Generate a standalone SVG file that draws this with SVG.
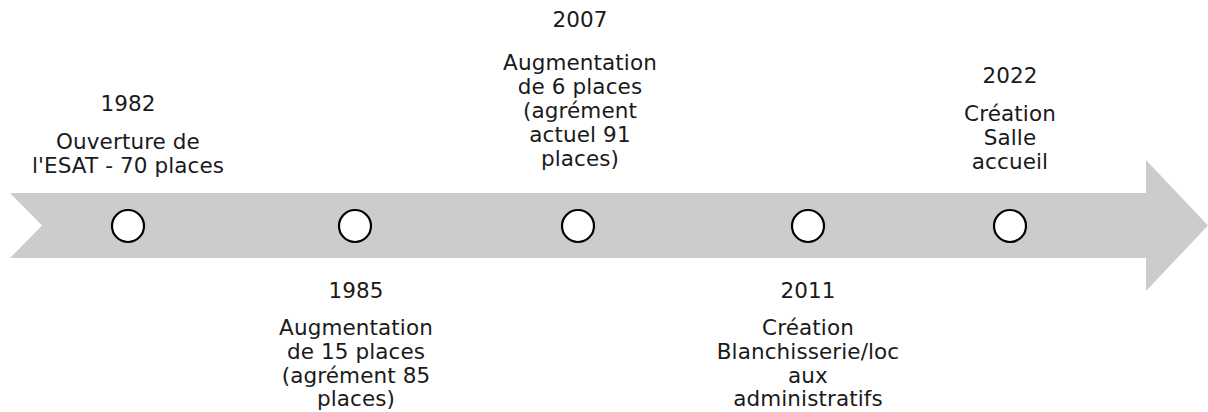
<svg xmlns="http://www.w3.org/2000/svg" width="1208" height="412" viewBox="0 0 1208 412">
<style>
.t{font-family:"DejaVu Sans","Liberation Sans",sans-serif;font-size:21.5px;fill:#1a1a1a;text-anchor:middle;letter-spacing:0.1px}
.c{fill:#ffffff;stroke:#000000;stroke-width:2.2}
</style>
<rect width="1208" height="412" fill="#ffffff"/>
<g id="connectors">
<polygon id="timeline-arrow" points="10,193 1146,193 1146,160 1208,225.5 1146,291 1146,258 10,258 42,225.5" fill="#cccccc"/>
</g>
<g id="node-1982">
<circle class="c" cx="128" cy="226" r="16"/>
<text class="t" x="128" y="111">1982</text>
<text class="t" x="128" y="149">Ouverture de</text>
<text class="t" x="128" y="173">l'ESAT - 70 places</text>
</g>
<g id="node-1985">
<circle class="c" cx="355" cy="226" r="16"/>
<text class="t" x="356" y="298">1985</text>
<text class="t" x="356" y="335">Augmentation</text>
<text class="t" x="356" y="359">de 15 places</text>
<text class="t" x="356" y="383">(agrément 85</text>
<text class="t" x="356" y="406">places)</text>
</g>
<g id="node-2007">
<circle class="c" cx="578" cy="226" r="16"/>
<text class="t" x="580" y="27">2007</text>
<text class="t" x="580" y="70">Augmentation</text>
<text class="t" x="580" y="94">de 6 places</text>
<text class="t" x="580" y="118">(agrément</text>
<text class="t" x="580" y="142">actuel 91</text>
<text class="t" x="580" y="166">places)</text>
</g>
<g id="node-2011">
<circle class="c" cx="808" cy="226" r="16"/>
<text class="t" x="808" y="298">2011</text>
<text class="t" x="808" y="335">Création</text>
<text class="t" x="808" y="359">Blanchisserie/loc</text>
<text class="t" x="808" y="383">aux</text>
<text class="t" x="808" y="406">administratifs</text>
</g>
<g id="node-2022">
<circle class="c" cx="1010" cy="226" r="16"/>
<text class="t" x="1010" y="83">2022</text>
<text class="t" x="1010" y="121">Création</text>
<text class="t" x="1010" y="145">Salle</text>
<text class="t" x="1010" y="169">accueil</text>
</g>
</svg>
